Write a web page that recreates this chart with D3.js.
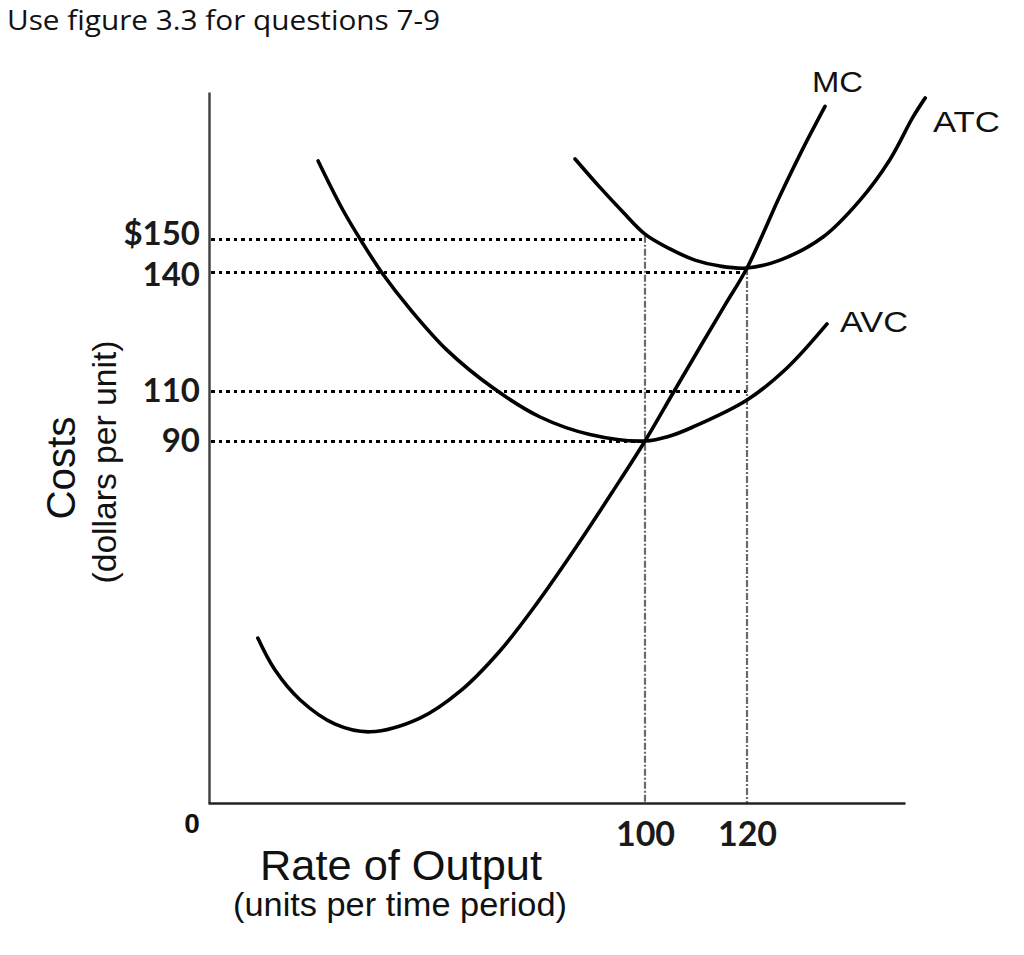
<!DOCTYPE html>
<html>
<head>
<meta charset="utf-8">
<script src="https://cdn.jsdelivr.net/npm/d3@7"></script>
<style>
  html, body { margin: 0; padding: 0; background: #fff; }
  svg { display: block; }
</style>
</head>
<body>
<svg id="chart" width="1024" height="955"></svg>
<script>
// ---------- data ----------
const titleText = "Use figure 3.3 for questions 7-9";
const xKnots = [0, 100, 120, 152];          // output (units) at sketch knots
const yKnots = [0, 90, 110, 140, 150, 195];  // cost ($) at sketch knots

const yTickValues = [90, 110, 140, 150];
const yTickLabels = ["90", "110", "140", "$150"];
const xTickValues = [100, 120];
const xTickLabels = ["100", "120"];

// Marginal cost
const mcQ    = [11.4, 15.3, 21.1, 29.1, 37.1, 48.5, 57.7, 66.8, 75.3, 84.4, 92.7, 100, 105.5, 110.8, 115.7, 120, 126.7, 131.3, 135.8];
const mcCost = [41.0, 33.1, 25.6, 19.6, 17.7, 21.1, 27.8, 37.8, 49.7, 63.9, 77.6, 90, 109.2, 121.1, 131.7, 141.2, 163.3, 177.6, 190.6];
// Average variable cost
const avcQ    = [25.2, 30.9, 35.5, 40.0, 46.2, 54.7, 65.2, 76.0, 87.4, 100, 104.9, 109.4, 120, 128.1, 136.2];
const avcCost = [173.9, 158.8, 148.5, 139.5, 130.7, 120.3, 110.8, 99.6, 92.6, 90, 92.0, 95.6, 106.4, 115.8, 126.9];
// Average total cost
const atcQ    = [84.0, 89.7, 95.0, 100, 104.9, 109.8, 114.7, 120, 126.7, 135.4, 142.9, 148.9, 153.6, 156.1];
const atcCost = [174.5, 165.8, 158.2, 151.5, 147.0, 143.6, 141.8, 141.2, 143.6, 150.6, 161.9, 174.2, 187.3, 193.2];

const curveNames = ["MC", "ATC", "AVC"];

// guide lines
const hGuideCost = [150, 140, 110, 90];
const hGuideEndQ = [100, 120, 120, 100];
const vGuideQ    = [100, 120];
const vGuideTop  = [151, 141.2];

// ---------- drawing ----------
const svg = d3.select("#chart");
const x = d3.scaleLinear().domain(xKnots).range([208, 645, 747, 905]);
const y = d3.scaleLinear().domain(yKnots).range([803, 441, 391, 272, 239, 92]);

// title
svg.append("text")
  .attr("x", 7).attr("y", 30)
  .attr("font-family", "'Open Sans', Lato, sans-serif")
  .attr("font-size", 27)
  .attr("fill", "#111")
  .attr("textLength", 433).attr("lengthAdjust", "spacingAndGlyphs")
  .text(titleText);

// horizontal dotted guides
svg.append("g").selectAll("line")
  .data(hGuideCost.map((c, i) => ({c, q: hGuideEndQ[i]})))
  .join("line")
  .attr("x1", x(0) + 3).attr("x2", d => x(d.q))
  .attr("y1", d => y(d.c)).attr("y2", d => y(d.c))
  .attr("stroke", "#000").attr("stroke-width", 3)
  .attr("stroke-dasharray", "3.5 4")
  .attr("shape-rendering", "crispEdges");

// vertical dash-dot guides
svg.append("g").selectAll("line")
  .data(vGuideQ.map((q, i) => ({q, top: vGuideTop[i]})))
  .join("line")
  .attr("x1", d => x(d.q)).attr("x2", d => x(d.q))
  .attr("y1", d => y(d.top)).attr("y2", y(0))
  .attr("stroke", "#6a6a6a").attr("stroke-width", 2.2)
  .attr("stroke-dasharray", "7 2 2 2");

// axes
const yAxis = d3.axisLeft(y).tickValues(yTickValues)
  .tickFormat((d, i) => yTickLabels[i]).tickSize(0).tickSizeOuter(0).tickPadding(9);
const gy = svg.append("g").attr("transform", `translate(${x(0) + 1},0)`).call(yAxis);
gy.select(".domain").attr("stroke", "#444").attr("stroke-width", 2.5);
gy.selectAll("text")
  .attr("font-family", "Lato, 'Open Sans', sans-serif").attr("font-weight", 700)
  .attr("font-size", 33).attr("fill", "#1a1a1a")
  .attr("dy", d => d === 150 ? "0.18em" : (d === 140 ? "0.42em" : "0.32em"));

const xAxis = d3.axisBottom(x).tickValues(xTickValues)
  .tickFormat((d, i) => xTickLabels[i]).tickSize(0).tickSizeOuter(0).tickPadding(19);
const gx = svg.append("g").attr("transform", `translate(0,${y(0)})`).call(xAxis);
gx.select(".domain").attr("stroke", "#222").attr("stroke-width", 2.5);
gx.selectAll("text")
  .attr("font-family", "Lato, 'Open Sans', sans-serif").attr("font-weight", 700)
  .attr("font-size", 34).attr("fill", "#1a1a1a");

// origin label
svg.append("text")
  .attr("x", 192).attr("y", 833).attr("text-anchor", "middle")
  .attr("font-family", "'Liberation Sans', Arial, sans-serif").attr("font-weight", 700)
  .attr("font-size", 28).attr("fill", "#111").text("0");

// curves
const line = d3.line().x(d => x(d[0])).y(d => y(d[1])).curve(d3.curveCatmullRom.alpha(0.5));
const curves = [
  {name: "MC",  pts: mcQ.map((q, i) => [q, mcCost[i]])},
  {name: "ATC", pts: atcQ.map((q, i) => [q, atcCost[i]])},
  {name: "AVC", pts: avcQ.map((q, i) => [q, avcCost[i]])}
];
svg.append("g").selectAll("path").data(curves).join("path")
  .attr("d", d => line(d.pts))
  .attr("fill", "none").attr("stroke", "#000")
  .attr("stroke-width", 3.6).attr("stroke-linecap", "round").attr("stroke-linejoin", "round");

// curve labels
const labelPos = {MC: [812, 92, 51], ATC: [933, 132, 67], AVC: [840, 332, 68]};
svg.append("g").selectAll("text").data(curveNames).join("text")
  .attr("x", d => labelPos[d][0]).attr("y", d => labelPos[d][1])
  .attr("textLength", d => labelPos[d][2]).attr("lengthAdjust", "spacingAndGlyphs")
  .attr("font-family", "'Liberation Sans', Arial, sans-serif")
  .attr("font-size", 30).attr("fill", "#111")
  .text(d => d);

// axis titles
svg.append("text")
  .attr("x", 401).attr("y", 880).attr("text-anchor", "middle")
  .attr("font-family", "'Liberation Sans', Arial, sans-serif")
  .attr("font-size", 42).attr("fill", "#111")
  .attr("textLength", 282).attr("lengthAdjust", "spacingAndGlyphs")
  .text("Rate of Output");
svg.append("text")
  .attr("x", 400).attr("y", 916).attr("text-anchor", "middle")
  .attr("font-family", "'Liberation Sans', Arial, sans-serif")
  .attr("font-size", 33).attr("fill", "#111")
  .attr("textLength", 334).attr("lengthAdjust", "spacingAndGlyphs")
  .text("(units per time period)");

svg.append("text")
  .attr("transform", "translate(75,468) rotate(-90)").attr("text-anchor", "middle")
  .attr("font-family", "'Liberation Sans', Arial, sans-serif")
  .attr("font-size", 40).attr("fill", "#111")
  .attr("textLength", 103).attr("lengthAdjust", "spacingAndGlyphs")
  .text("Costs");
svg.append("text")
  .attr("transform", "translate(116,462) rotate(-90)").attr("text-anchor", "middle")
  .attr("font-family", "'Liberation Sans', Arial, sans-serif")
  .attr("font-size", 33).attr("fill", "#111")
  .attr("textLength", 243).attr("lengthAdjust", "spacingAndGlyphs")
  .text("(dollars per unit)");
</script>
</body>
</html>
